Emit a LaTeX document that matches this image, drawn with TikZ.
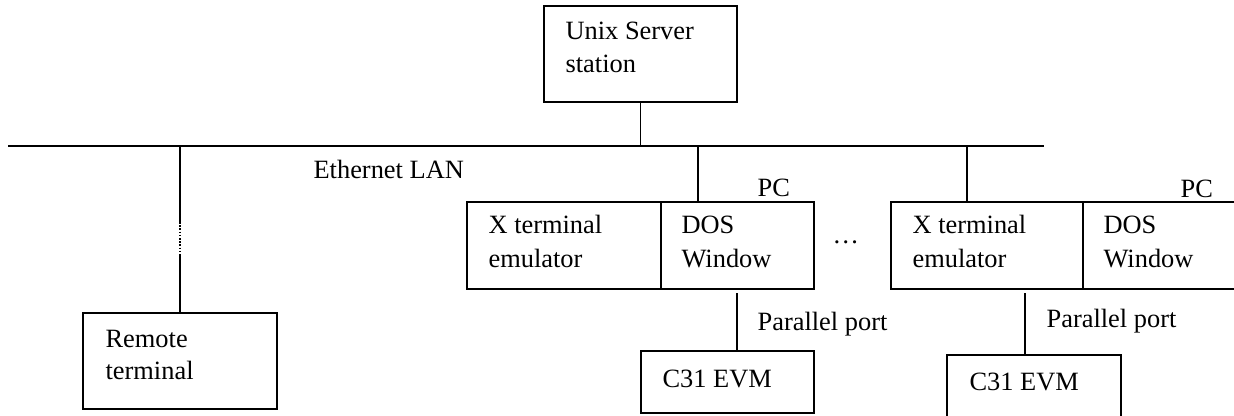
\documentclass[tikz,border=0pt]{standalone}
\usepackage{fontspec}
\setmainfont{Liberation Serif}
\begin{document}
\begin{tikzpicture}[x=0.75pt,y=-0.75pt,
  line width=0.9pt,
  box/.style={draw,rectangle,inner sep=0pt,outer sep=0pt},
  sz/.style 2 args={minimum width=#1*0.75pt,minimum height=#2*0.75pt},
  lbl/.style={anchor=base west,inner sep=0pt,font=\fontsize{19.8}{25}\selectfont},
  bus/.style={line width=1.4pt},
  dotline/.style={line width=1pt,dash pattern=on 1.2pt off 1.2pt}]
\useasboundingbox (0,0) rectangle (1234,415);
\clip (0,0) rectangle (1234,415);
% boxes
\node[box,sz={193}{96}] (unix) at (640.5,54) {};
\node[box,sz={194}{96}] (remote) at (180,361) {};
\node[box,sz={347}{87}] (pc1) at (640.5,245.5) {};
\node[box,sz={360}{87}] (pc2) at (1071,245.5) {};
\node[box,sz={173}{62}] (evm1) at (727.5,382) {};
\node[box,sz={174}{70}] (evm2) at (1034,390) {};
% splits in PC boxes
\coordinate (split1) at (661,202);
\coordinate (split2) at (1083,202);
\draw (split1) -- (split1 |- pc1.south);
\draw (split2) -- (split2 |- pc2.south);
% bus
\coordinate (busL) at (8,146);
\coordinate (busR) at (1044,146);
\draw[bus] (busL) -- (busR);
% connectors
\draw (unix.south) -- (unix.south |- busL);
\coordinate (rA) at (180,222);
\coordinate (rB) at (180,255);
\draw (remote.north |- busL) -- (rA);
\draw[dotline] (rA) -- (rB);
\draw (rB) -- (remote.north);
\coordinate (pc1top) at (698,202);
\coordinate (pc2top) at (967,202);
\draw (pc1top |- busL) -- (pc1top);
\draw (pc2top |- busL) -- (pc2top);
\coordinate (par1) at (737,293);
\coordinate (par2) at (1025,293);
\draw (par1) -- (par1 |- evm1.north);
\draw (par2) -- (par2 |- evm2.north);
% labels
\node[lbl] (tunix1) at (565,39) {Unix Server};
\node[lbl] (tunix2) at (565,72) {station};
\node[lbl] (teth) at (313,178) {Ethernet LAN};
\node[lbl] (trem1) at (105,347) {Remote};
\node[lbl] (trem2) at (105,379) {terminal};
\node[lbl] (tx1a) at (488,233) {X terminal};
\node[lbl] (tx1b) at (488,267) {emulator};
\node[lbl] (td1a) at (681,233) {DOS};
\node[lbl] (td1b) at (681,267) {Window};
\node[lbl] (tpc1) at (757,196) {PC};
\node[lbl] (tx2a) at (912,233) {X terminal};
\node[lbl] (tx2b) at (912,267) {emulator};
\node[lbl] (td2a) at (1103,233) {DOS};
\node[lbl] (td2b) at (1103,267) {Window};
\node[lbl] (tpc2) at (1180,197) {PC};
\node[lbl] (tdots) at (832,243) {…};
\node[lbl] (tpar1) at (757,330) {Parallel port};
\node[lbl] (tpar2) at (1046,327) {Parallel port};
\node[lbl] (tevm1) at (662,387) {C31 EVM};
\node[lbl] (tevm2) at (969,390) {C31 EVM};
\end{tikzpicture}
\end{document}
